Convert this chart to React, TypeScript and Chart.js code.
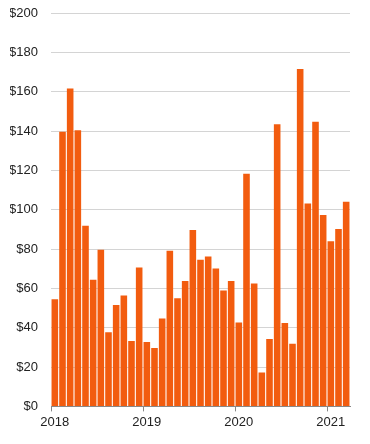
import React, { useEffect, useRef } from "react";
import { Chart, registerables } from "chart.js";

Chart.register(...registerables);

const monthLabels = [
  "2018-01", "2018-02", "2018-03", "2018-04", "2018-05", "2018-06", "2018-07", "2018-08", "2018-09", "2018-10", "2018-11", "2018-12",
  "2019-01", "2019-02", "2019-03", "2019-04", "2019-05", "2019-06", "2019-07", "2019-08", "2019-09", "2019-10", "2019-11", "2019-12",
  "2020-01", "2020-02", "2020-03", "2020-04", "2020-05", "2020-06", "2020-07", "2020-08", "2020-09", "2020-10", "2020-11", "2020-12",
  "2021-01", "2021-02", "2021-03",
];
const monthlyValues = [
  54.5, 139.6, 161.6, 140.4, 91.9, 64.4, 79.6, 37.7, 51.5, 56.4, 33.3, 70.6,
  32.8, 29.7, 44.7, 79.1, 55.0, 63.8, 89.7, 74.5, 76.2, 70.1, 58.9, 63.8,
  42.6, 118.3, 62.5, 17.2, 34.3, 143.5, 42.4, 31.9, 171.5, 103.1, 144.7, 97.3,
  83.9, 90.2, 104.1,
];
const yTickValues = [0, 20, 40, 60, 80, 100, 120, 140, 160, 180, 200];

export default function App() {
  const canvasRef = useRef<HTMLCanvasElement | null>(null);

  useEffect(() => {
    document.body.style.margin = "0";
    const canvas = canvasRef.current;
    if (!canvas) return;
    const font = { family: "'Liberation Sans', Arial, sans-serif", size: 13 };
    const chart = new Chart(canvas, {
      type: "bar",
      data: {
        labels: monthLabels,
        datasets: [
          {
            data: monthlyValues,
            backgroundColor: "#f25c0f",
            borderWidth: 0,
            barPercentage: 0.86,
            categoryPercentage: 1,
          },
        ],
      },
      options: {
        responsive: false,
        animation: false,
        layout: { padding: { left: 10, right: 20, top: 13, bottom: 11 } },
        plugins: { legend: { display: false }, tooltip: { enabled: false } },
        scales: {
          x: {
            type: "category",
            offset: true,
            afterFit: (scale: any) => {
              scale.paddingLeft = 0;
              scale.paddingRight = 0;
            },
            ticks: {
              autoSkip: false,
              maxRotation: 0,
              color: "#222",
              font,
              padding: 3,
              callback: (_v: any, index: number) =>
                monthLabels[index].endsWith("-01") ? monthLabels[index].slice(0, 4) : "",
            },
            grid: {
              offset: true,
              drawOnChartArea: false,
              drawTicks: true,
              tickLength: 5,
              color: (ctx: any) =>
                ctx.index < monthLabels.length && ctx.index % 12 === 0 ? "#888" : "rgba(0,0,0,0)",
            },
            border: { display: true, color: "#888" },
          },
          y: {
            min: 0,
            max: 200,
            afterBuildTicks: (scale: any) => {
              scale.ticks = yTickValues.map((v) => ({ value: v }));
            },
            afterFit: (scale: any) => {
              scale.width = 41;
              scale.paddingTop = 0;
              scale.paddingBottom = 0;
            },
            ticks: {
              color: "#222",
              font,
              padding: 13,
              callback: (v: any) => "$" + v,
            },
            grid: { color: "#d4d4d4", drawTicks: false },
            border: { display: false },
          },
        },
      },
    });
    return () => chart.destroy();
  }, []);

  return (
    <div style={{ width: 370, height: 444 }}>
      <canvas ref={canvasRef} width={370} height={444} />
    </div>
  );
}
